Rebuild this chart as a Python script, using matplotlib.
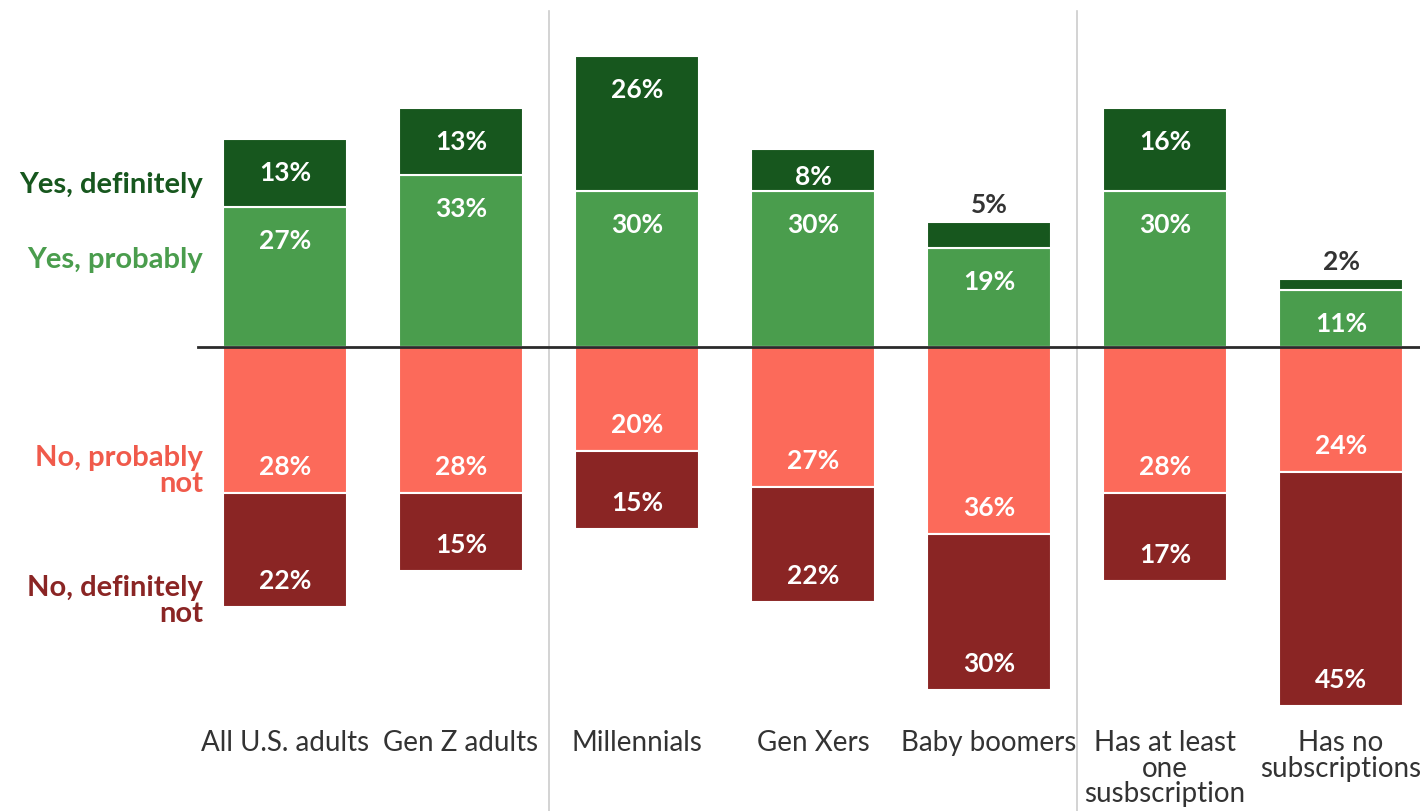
import matplotlib
matplotlib.use("Agg")
import matplotlib.pyplot as plt
import numpy as np

categories = ["All U.S. adults", "Gen Z adults", "Millennials", "Gen Xers",
              "Baby boomers", "Has at least\none\nsusbscription", "Has no\nsubscriptions"]
yes_definitely = [13, 13, 26, 8, 5, 16, 2]
yes_probably = [27, 33, 30, 30, 19, 30, 11]
no_probably = [28, 28, 20, 27, 36, 28, 24]
no_definitely = [22, 15, 15, 22, 30, 17, 45]

C_YD = "#17571e"
C_YP = "#4a9d4d"
C_NP = "#fc6a5a"
C_ND = "#8a2524"
TXT = "#333333"

W, H, DPI = 1420, 811, 100
PX_PER_PCT = 5.2
ZERO_PX = 347
CENTER0, STEP = 285, 176

plt.rcParams["font.family"] = ["Lato", "DejaVu Sans"]

fig = plt.figure(figsize=(W / DPI, H / DPI), dpi=DPI)
ax = fig.add_axes([0, 0, 1, 1])
ax.set_xlim(-CENTER0 / STEP, (W - CENTER0) / STEP)
ax.set_ylim(-(H - ZERO_PX) / PX_PER_PCT, ZERO_PX / PX_PER_PCT)
ax.axis("off")


def px(xp, yp):
    """pixel position (from top-left) -> data coords"""
    return (xp - CENTER0) / STEP, (ZERO_PX - yp) / PX_PER_PCT


x = np.arange(len(categories))
yd = np.array(yes_definitely)
yp = np.array(yes_probably)
npb = np.array(no_probably)
nd = np.array(no_definitely)
bw = 124 / STEP

kw = dict(width=bw, edgecolor="white", linewidth=1.5, zorder=2)
ax.bar(x, yp, bottom=0, color=C_YP, **kw)
ax.bar(x, yd, bottom=yp, color=C_YD, **kw)
ax.bar(x, -npb, bottom=0, color=C_NP, **kw)
ax.bar(x, -nd, bottom=-npb, color=C_ND, **kw)

VAL_FS = 19
lab = dict(ha="center", va="center_baseline", fontsize=VAL_FS, fontweight="bold", zorder=4)


def seg_label(xi, outer, size, sign):
    # label sits near the outer end of the segment, or centred if it is short
    seg_px = size * PX_PER_PCT
    if sign > 0:
        off = min(32, seg_px / 2 + 5)
    else:
        off = -min(28, seg_px / 2)
    y = outer - off / PX_PER_PCT
    ax.text(xi, y, f"{size}%", color="white", **lab)


for i in range(len(categories)):
    seg_label(x[i], yp[i], yp[i], 1)
    if yd[i] > 6:
        seg_label(x[i], yp[i] + yd[i], yd[i], 1)
    else:
        ax.annotate(f"{yd[i]}%", (x[i], yp[i] + yd[i]), xytext=(0, 4),
                    textcoords="offset points", ha="center", va="bottom",
                    fontsize=VAL_FS, fontweight="bold", color=TXT, zorder=4)
    seg_label(x[i], -npb[i], npb[i], -1)
    seg_label(x[i], -npb[i] - nd[i], nd[i], -1)

# zero line
x0, _ = px(198, 0)
ax.plot([x0, ax.get_xlim()[1]], [0, 0], color="#2b2b2b", lw=2, zorder=5)

# group separators
for xs in (1.5, 4.5):
    ax.plot([xs, xs], [px(0, 11)[1], ax.get_ylim()[0]], color="#cccccc", lw=1.2, zorder=1)

# category labels
for i, c in enumerate(categories):
    ax.text(x[i], px(0, 730)[1], c, ha="center", va="top", fontsize=20,
            color=TXT, linespacing=0.98, zorder=4)

# series labels on the left
legend_items = [("Yes, definitely", C_YD, 185), ("Yes, probably", C_YP, 260),
                ("No, probably\nnot", "#f05a4b", 471), ("No, definitely\nnot", C_ND, 601)]
for text, col, ypix in legend_items:
    lx, ly = px(203, ypix)
    ax.text(lx, ly, text, ha="right", va="center", fontsize=21, fontweight="bold",
            color=col, linespacing=1.02)

fig.savefig("out.png", dpi=DPI, facecolor="white")
